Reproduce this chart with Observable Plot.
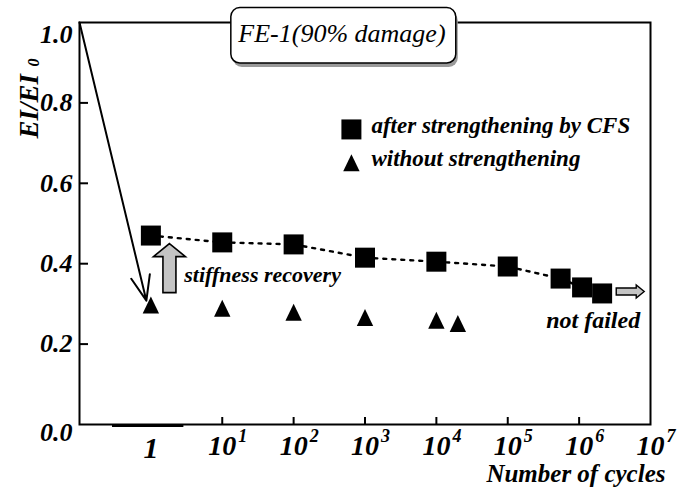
<!DOCTYPE html>
<html><head><meta charset="utf-8">
<script src="https://cdn.jsdelivr.net/npm/d3@7"></script>
<script src="https://cdn.jsdelivr.net/npm/@observablehq/plot@0.6"></script>
<style>body{margin:0;background:#fff}</style>
</head><body><div id="chart"></div>
<script>
// ---- data ----
const cyclesCFS = [1, 10, 100, 1000, 1e4, 1e5, 5.5e5, 1.1e6, 2.1e6];
const ratioCFS  = [0.470, 0.453, 0.448, 0.415, 0.405, 0.393, 0.363, 0.341, 0.326];
const cyclesNone = [1, 10, 100, 1000, 1e4, 2e4];
const ratioNone  = [0.290, 0.282, 0.272, 0.259, 0.252, 0.244];

const xTickValues = [10, 100, 1e3, 1e4, 1e5, 1e6, 1e7];
const xTickExponents = ["1", "2", "3", "4", "5", "6", "7"];
const xOneLabel = ["1"];
const yTickValues = [0.0, 0.2, 0.4, 0.6, 0.8, 1.0];
const yTickLabels = ["0.0", "0.2", "0.4", "0.6", "0.8", "1.0"];
const legendLabels = ["after strengthening by CFS", "without strengthening"];
const titleText = "FE-1(90% damage)";
const yLabelMain = "EI/EI";
const yLabelSub = "0";
const xLabel = "Number of cycles";

// annotation anchors (data coordinates)
const titleBox = [{x1: 13.4, x2: 1.9e4, y1: 0.898, y2: 1.036}];
const titleAnchor = [{x: 16.8, y: 0.971}];
const legendAnchor = [{x: 645, y: 0.734, tx: 1230, ty: 0.743},
                      {x: 645, y: 0.644, tx: 1230, ty: 0.662}];
const longArrow = [{x1: 0.1, y1: 1.0, x2: 0.865, y2: 0.308}];
const recoveryArrow = [{x: 1.82, y: 0.389}];
const recoveryText = [{x: 2.94, y: 0.373, label: "stiffness recovery"}];
const notFailedArrow = [{x: 5.2e6, y: 0.331}];
const notFailedText = [{x: 3.45e5, y: 0.258, label: "not failed"}];

const cfs = cyclesCFS.map((c, i) => ({c, r: ratioCFS[i]}));
const none = cyclesNone.map((c, i) => ({c, r: ratioNone[i]}));
const yTicks = yTickValues.map((v, i) => ({v, label: yTickLabels[i]}));

// ---- custom symbols ----
function blockArrow(dir, len, shaftW, headW, headL) {
  return {draw(ctx) {
    const h = len / 2;
    const pts = [[0, -h], [headW / 2, -h + headL], [shaftW / 2, -h + headL], [shaftW / 2, h],
                 [-shaftW / 2, h], [-shaftW / 2, -h + headL], [-headW / 2, -h + headL]];
    const P = dir === "right" ? pts.map(([x, y]) => [-y, x]) : pts;
    ctx.moveTo(P[0][0], P[0][1]);
    for (let k = 1; k < P.length; k++) ctx.lineTo(P[k][0], P[k][1]);
    ctx.closePath();
  }};
}
const triangleSym = {draw(ctx) {
  const hgt = 17, hw = 8.2;
  ctx.moveTo(0, -hgt * 2 / 3);
  ctx.lineTo(hw, hgt / 3);
  ctx.lineTo(-hw, hgt / 3);
  ctx.closePath();
}};
const squareSym = {draw(ctx) {
  const s = 10;
  ctx.moveTo(-s, -s); ctx.lineTo(s, -s); ctx.lineTo(s, s); ctx.lineTo(-s, s); ctx.closePath();
}};

const F = "Liberation Serif";
const gray = "#c4c4c4";
const T = {fontFamily: F, fontWeight: "bold", fontStyle: "italic", lineAnchor: "middle"};

const chart = Plot.plot({
  width: 682, height: 491,
  marginTop: 22, marginRight: 32, marginBottom: 67, marginLeft: 79,
  x: {type: "log", domain: [0.1, 1e7], axis: null},
  y: {domain: [0, 1], axis: null},
  style: {background: "white", color: "black"},
  marks: [
    Plot.frame({stroke: "black", strokeWidth: 2}),
    Plot.ruleY([0], {x1: 0.29, x2: 2.9, stroke: "black", strokeWidth: 3, dy: 1}),
    // ticks
    Plot.tickX(xTickValues.slice(0, 6), {x: d => d, insetTop: 395, stroke: "black", strokeWidth: 2}),
    Plot.tickY(yTickValues.slice(1, 5), {y: d => d, insetRight: 562, stroke: "black", strokeWidth: 2}),
    // y tick labels
    Plot.text(yTicks.slice(1, 5), {...T, y: "v", text: "label", frameAnchor: "left", dx: -7, textAnchor: "end", fontSize: 26}),
    Plot.text(yTicks.slice(5), {...T, y: "v", text: "label", frameAnchor: "left", dx: -7, dy: 12, textAnchor: "end", fontSize: 26}),
    Plot.text(yTicks.slice(0, 1), {...T, y: "v", text: "label", frameAnchor: "left", dx: -7, dy: 8, textAnchor: "end", fontSize: 26}),
    // x tick labels
    Plot.text(xOneLabel, {...T, x: 1, frameAnchor: "bottom", text: d => d, dy: 24, fontSize: 30}),
    Plot.text(xTickValues, {...T, x: d => d, frameAnchor: "bottom", text: () => "10", dy: 22, fontSize: 28}),
    Plot.text(xTickValues, {...T, x: d => d, frameAnchor: "bottom", text: (d, i) => xTickExponents[i], dx: 16, dy: 12, textAnchor: "start", fontSize: 18}),
    // axis labels
    Plot.text([xLabel], {...T, frameAnchor: "bottom-right", text: d => d, dx: 15, dy: 49, textAnchor: "end", fontSize: 25}),
    Plot.text([yLabelMain], {...T, frameAnchor: "top-left", text: d => d, dx: -50, dy: 116, rotate: -90, textAnchor: "start", fontSize: 27}),
    Plot.text([yLabelSub], {...T, frameAnchor: "top-left", text: d => d, dx: -46, dy: 44, rotate: -90, textAnchor: "start", fontSize: 16}),
    // title box
    Plot.rect(titleBox, {x1: "x1", x2: "x2", y1: "y1", y2: "y2", rx: 9, fill: "#9a9a9a", dx: 2, dy: 4}),
    Plot.rect(titleBox, {x1: "x1", x2: "x2", y1: "y1", y2: "y2", rx: 9, fill: "white", stroke: "black", strokeWidth: 1.5}),
    Plot.text(titleAnchor, {...T, x: "x", y: "y", text: () => titleText, textAnchor: "start", fontSize: 26, fontWeight: "normal"}),
    // long arrow
    Plot.arrow(longArrow, {x1: "x1", y1: "y1", x2: "x2", y2: "y2", stroke: "black", strokeWidth: 2, headLength: 20, headAngle: 42}),
    // data
    Plot.line(cfs, {x: "c", y: "r", stroke: "black", strokeWidth: 2.4, strokeDasharray: "3,6"}),
    Plot.dot(cfs, {x: "c", y: "r", symbol: squareSym, fill: "black", stroke: "none"}),
    Plot.dot(none, {x: "c", y: "r", symbol: triangleSym, fill: "black", stroke: "none"}),
    // legend
    Plot.dot(legendAnchor.slice(0, 1), {x: "x", y: "y", symbol: squareSym, fill: "black", stroke: "none"}),
    Plot.dot(legendAnchor.slice(1), {x: "x", y: "y", symbol: triangleSym, fill: "black", stroke: "none"}),
    Plot.text(legendAnchor, {...T, x: "tx", y: "ty", text: (d, i) => legendLabels[i], textAnchor: "start", fontSize: 23}),
    // annotations
    Plot.dot(recoveryArrow, {x: "x", y: "y", symbol: blockArrow("up", 49, 13, 32, 13), fill: gray, stroke: "black", strokeWidth: 1.6}),
    Plot.text(recoveryText, {...T, x: "x", y: "y", text: "label", textAnchor: "start", fontSize: 22}),
    Plot.dot(notFailedArrow, {x: "x", y: "y", symbol: blockArrow("right", 28, 7, 13, 8), fill: gray, stroke: "black", strokeWidth: 1.4}),
    Plot.text(notFailedText, {...T, x: "x", y: "y", text: "label", textAnchor: "start", fontSize: 24})
  ]
});
document.getElementById("chart").appendChild(chart);
</script>
</body></html>
